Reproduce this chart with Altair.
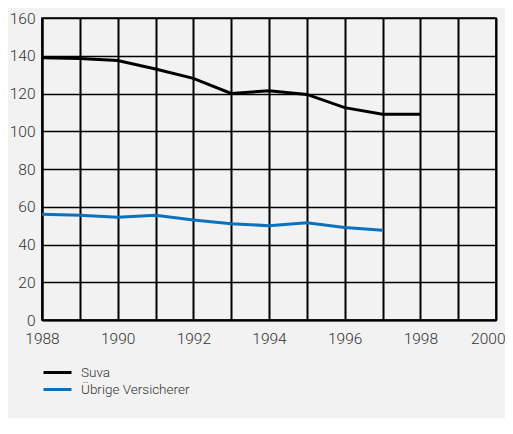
import altair as alt
import pandas as pd

years_suva = [1988, 1989, 1990, 1991, 1992, 1993, 1994, 1995, 1996, 1997, 1998]
suva = [139, 138.5, 137.5, 133, 128, 120, 121.5, 119.5, 112.5, 109, 109]
years_other = [1988, 1989, 1990, 1991, 1992, 1993, 1994, 1995, 1996, 1997]
other = [56, 55.5, 54.5, 55.5, 53, 51, 50, 51.5, 49, 47.5]
series_names = ["Suva", "Übrige Versicherer"]
colors = ["#000000", "#0a72bd"]

df = pd.concat([
    pd.DataFrame({"Jahr": years_suva, "Wert": suva, "Serie": series_names[0]}),
    pd.DataFrame({"Jahr": years_other, "Wert": other, "Serie": series_names[1]}),
])

font = "Roboto"
chart = alt.Chart(df).mark_line(strokeWidth=3).encode(
    x=alt.X("Jahr:Q",
            scale=alt.Scale(domain=[1988, 2000], nice=False, zero=False),
            axis=alt.Axis(values=list(range(1988, 2001)), format="d",
                          labelExpr="datum.value % 2 == 0 ? datum.label : ''",
                          title=None, ticks=False, labelPadding=11,
                          labelFlush=False, labelOverlap=False, labelBound=False,
                          labelAlign={"condition": {"test": "datum.value == 2000", "value": "right"},
                                      "value": "center"},
                          labelOffset={"condition": {"test": "datum.value == 2000", "value": 9},
                                       "value": 0},
                          grid=True, gridColor="#000000", gridWidth=2, gridOpacity=1,
                          domainColor="#000000", domainWidth=2,
                          labelFont=font, labelFontSize=15.5, labelFontWeight=300,
                          labelColor="#333333")),
    y=alt.Y("Wert:Q",
            scale=alt.Scale(domain=[0, 160], nice=False),
            axis=alt.Axis(values=list(range(0, 161, 20)), title=None, ticks=False,
                          labelPadding=7, labelFlush=False, labelOverlap=False,
                          grid=True, gridColor="#000000", gridWidth=1.6,
                          gridOpacity=1, domainColor="#000000", domainWidth=2,
                          labelFont=font, labelFontSize=15.5, labelFontWeight=300,
                          labelColor="#333333")),
    color=alt.Color("Serie:N",
                    scale=alt.Scale(domain=series_names, range=colors),
                    legend=alt.Legend(title=None, orient="none", legendX=0, legendY=346,
                                      symbolType="M-1,0H3", symbolSize=196,
                                      symbolStrokeWidth=3, symbolFillColor="transparent",
                                      labelFont=font, labelFontWeight=300,
                                      labelFontSize=13.5, labelColor="#333333",
                                      rowPadding=2, labelOffset=22)),
).properties(
    width=454, height=302,
    background="#f2f2f2",
    padding={"left": 34, "top": 10, "right": 9, "bottom": 98},
    autosize=alt.AutoSizeParams(type="none"),
).configure_view(stroke="#000000", strokeWidth=1.6, fill="#f2f2f2")

chart.save("out.html", embed_options={"renderer": "svg", "actions": False})
